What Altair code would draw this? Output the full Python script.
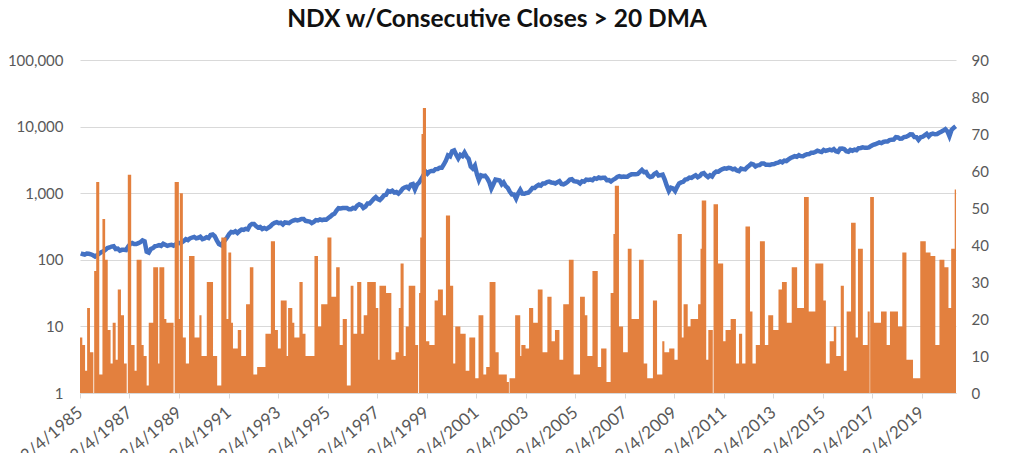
import altair as alt
import pandas as pd

TITLE = "NDX w/Consecutive Closes > 20 DMA"

# NDX monthly level (Feb 1985 .. Jun 2020), left log axis
ndx_values = [
    125, 122, 120, 124, 123, 121, 117, 112, 117, 124, 130,
    134, 142, 150, 153, 158, 160, 145, 147, 137, 141, 141, 140,
    158, 172, 178, 172, 172, 178, 184, 196, 190, 132, 128, 145,
    150, 160, 162, 166, 162, 174, 168, 162, 166, 168, 163, 170,
    180, 178, 182, 192, 204, 198, 210, 216, 220, 210, 214, 222,
    205, 210, 218, 212, 236, 240, 226, 196, 172, 166, 182, 198,
    218, 245, 262, 258, 268, 252, 270, 285, 282, 292, 286, 328,
    345, 345, 322, 305, 310, 290, 300, 290, 305, 320, 345, 360,
    368, 355, 360, 340, 365, 360, 355, 375, 388, 398, 390, 398,
    410, 410, 385, 380, 375, 355, 370, 395, 390, 405, 395, 402,
    400, 425, 445, 475, 490, 550, 595, 590, 600, 600, 600, 576,
    575, 600, 590, 650, 680, 660, 600, 630, 700, 700, 760, 820,
    875, 815, 790, 850, 930, 945, 1080, 1050, 1090, 1020, 1040, 990,
    1060, 1170, 1220, 1250, 1180, 1340, 1370, 1140, 1350, 1440, 1630, 1836,
    2130, 1960, 2100, 2160, 2150, 2300, 2310, 2410, 2410, 2700, 3100, 3708,
    3570, 4270, 4400, 3770, 3320, 3760, 3610, 4080, 3570, 3280, 2510, 2341,
    2590, 1910, 1570, 1850, 1800, 1830, 1680, 1470, 1170, 1360, 1600, 1577,
    1550, 1360, 1450, 1280, 1200, 1050, 960, 960, 830, 990, 1120, 984,
    980, 1010, 1020, 1100, 1200, 1200, 1280, 1340, 1300, 1400, 1400, 1467,
    1490, 1450, 1440, 1400, 1460, 1520, 1380, 1360, 1410, 1480, 1600, 1621,
    1520, 1500, 1480, 1400, 1510, 1490, 1600, 1580, 1600, 1570, 1680, 1645,
    1720, 1680, 1700, 1700, 1570, 1575, 1500, 1590, 1650, 1750, 1800, 1756,
    1780, 1770, 1770, 1860, 1920, 1930, 1930, 1950, 2090, 2240, 2070, 2084,
    1840, 1750, 1780, 1950, 2030, 1840, 1870, 1900, 1600, 1300, 1080, 1212,
    1180, 1080, 1240, 1400, 1450, 1480, 1600, 1630, 1720, 1700, 1790, 1860,
    1740, 1810, 1960, 2000, 1850, 1750, 1860, 1780, 2000, 2110, 2100, 2217,
    2300, 2360, 2340, 2400, 2380, 2280, 2330, 2200, 2150, 2350, 2300, 2277,
    2460, 2600, 2760, 2700, 2520, 2620, 2640, 2800, 2800, 2680, 2680, 2660,
    2730, 2740, 2820, 2880, 3000, 2910, 3090, 3040, 3220, 3370, 3480, 3592,
    3530, 3720, 3600, 3580, 3740, 3850, 3870, 4050, 4050, 4150, 4340, 4236,
    4150, 4450, 4330, 4410, 4510, 4400, 4600, 4270, 4180, 4650, 4670, 4593,
    4280, 4200, 4480, 4340, 4520, 4420, 4730, 4770, 4880, 4800, 4810, 4864,
    5120, 5330, 5430, 5580, 5790, 5650, 5880, 5990, 5980, 6250, 6370, 6396,
    6950, 6870, 6580, 6600, 6970, 7040, 7270, 7660, 7630, 6970, 6950, 6330,
    6900, 7030, 7380, 7780, 7130, 7670, 7850, 7660, 7750, 8080, 8400, 8733,
    9150, 8460, 7200, 8890, 9550, 10100,
]

# consecutive closes above the 20-day moving average, right axis
streak_dates = [
    "1985-02-04", "1985-03-10", "1985-04-20", "1985-05-20", "1985-07-01", "1985-08-20",
    "1985-09-01", "1985-10-01", "1985-11-15", "1986-01-01", "1986-02-10", "1986-03-20",
    "1986-05-01", "1986-06-01", "1986-07-15", "1986-08-15", "1986-10-01", "1986-11-15",
    "1986-12-25", "1987-01-10", "1987-03-01", "1987-04-20", "1987-05-20", "1987-08-01",
    "1987-09-01", "1987-10-15", "1987-11-15", "1988-01-20", "1988-04-01", "1988-04-20",
    "1988-07-01", "1988-08-01", "1988-11-15", "1988-12-01", "1989-02-01", "1989-02-15",
    "1989-04-01", "1989-05-15", "1989-07-01", "1989-09-20", "1989-12-01", "1990-01-01",
    "1990-03-20", "1990-06-20", "1990-08-20", "1990-10-20", "1991-01-05", "1991-02-01",
    "1991-03-15", "1991-04-10", "1991-06-20", "1991-08-10", "1991-10-20", "1991-12-15",
    "1992-02-05", "1992-04-01", "1992-08-01", "1992-10-20", "1992-12-20", "1993-02-01",
    "1993-03-15", "1993-06-10", "1993-07-01", "1993-09-01", "1993-10-01", "1993-12-15",
    "1994-02-01", "1994-03-15", "1994-07-25", "1994-09-15", "1994-11-01", "1995-02-01",
    "1995-04-01", "1995-06-10", "1995-08-01", "1995-09-15", "1995-11-15", "1996-01-10",
    "1996-02-20", "1996-04-15", "1996-06-15", "1996-07-20", "1996-09-10", "1997-01-15",
    "1997-02-20", "1997-03-10", "1997-06-15", "1997-09-01", "1997-11-01", "1997-12-20",
    "1998-01-15", "1998-03-01", "1998-04-01", "1998-05-15", "1998-08-20", "1998-10-01",
    "1998-10-15", "1998-11-01", "1998-11-20", "1998-12-10", "1999-01-25", "1999-03-15",
    "1999-06-01", "1999-07-20", "1999-10-01", "1999-11-15", "2000-01-15", "2000-03-01",
    "2000-04-01", "2000-06-15", "2000-09-01", "2000-10-25", "2001-01-20", "2001-03-10",
    "2001-05-20", "2001-07-01", "2001-08-20", "2001-11-15", "2002-01-01", "2002-05-01",
    "2002-06-01", "2002-06-10", "2002-09-01", "2002-11-15", "2002-12-01", "2003-02-01",
    "2003-03-25", "2003-05-25", "2003-08-01", "2003-10-10", "2003-12-20", "2004-02-20",
    "2004-04-10", "2004-06-15", "2004-08-10", "2004-11-01", "2005-01-10", "2005-04-15",
    "2005-06-25", "2005-08-01", "2005-10-15", "2006-01-01", "2006-02-20", "2006-05-10",
    "2006-07-10", "2006-08-20", "2006-09-10", "2006-11-10", "2007-01-10", "2007-03-20",
    "2007-05-15", "2007-09-01", "2007-11-10", "2008-01-01", "2008-03-25", "2008-05-25",
    "2008-08-10", "2008-09-10", "2008-11-20", "2009-02-05", "2009-03-25", "2009-05-25",
    "2009-06-20", "2009-08-20", "2009-10-01", "2010-01-20", "2010-02-25", "2010-03-15",
    "2010-05-20", "2010-06-20", "2010-08-25", "2010-09-05", "2010-11-10", "2011-01-25",
    "2011-03-01", "2011-05-15", "2011-08-01", "2011-09-15", "2011-11-01", "2011-12-20",
    "2012-02-25", "2012-04-01", "2012-05-20", "2012-07-20", "2012-10-01", "2012-11-20",
    "2013-02-01", "2013-04-20", "2013-06-10", "2013-08-20", "2013-11-01", "2014-01-20",
    "2014-05-01", "2014-07-10", "2014-10-15", "2015-02-10", "2015-03-20", "2015-05-15",
    "2015-07-15", "2015-08-20", "2015-10-25", "2015-12-10", "2016-01-20", "2016-03-25",
    "2016-06-01", "2016-07-05", "2016-09-15", "2016-11-25", "2016-12-25", "2017-01-01",
    "2017-02-25", "2017-06-10", "2017-09-01", "2017-10-20", "2018-02-15", "2018-04-20",
    "2018-06-20", "2018-09-25", "2019-01-10", "2019-04-01", "2019-06-10", "2019-08-20",
    "2019-10-20", "2020-01-01", "2020-03-01", "2020-04-10", "2020-06-01", "2020-06-20",
]
streak_values = [
    15, 13, 6, 23, 11, 0,
    33, 57, 5, 47, 36, 17,
    8, 19, 9, 28, 21, 8,
    0, 59, 13, 6, 36, 13,
    10, 2, 19, 34, 8, 34,
    20, 19, 0, 57, 20, 54,
    15, 8, 37, 15, 21, 10,
    30, 10, 2, 42, 20, 38,
    19, 12, 17, 10, 24, 34,
    5, 7, 16, 41, 17, 12,
    25, 10, 23, 19, 15, 30,
    16, 10, 37, 18, 24, 42,
    26, 34, 13, 20, 2, 29,
    16, 30, 16, 21, 30, 23,
    9, 29, 27, 9, 11, 23,
    35, 10, 18, 29, 13, 0,
    27, 42, 70, 77, 14, 13,
    25, 28, 21, 48, 29, 8,
    18, 16, 6, 15, 4, 21,
    5, 7, 30, 11, 5, 3,
    0, 4, 21, 10, 13, 12,
    23, 19, 28, 11, 26, 14,
    17, 9, 24, 36, 5, 26,
    21, 10, 33, 7, 12, 3,
    27, 43, 56, 18, 11, 39,
    20, 36, 8, 4, 25, 5,
    14, 11, 12, 9, 43, 15,
    24, 18, 20, 24, 39, 52,
    9, 17, 0, 51, 35, 14,
    17, 20, 8, 16, 8, 45,
    22, 8, 13, 41, 13, 21,
    17, 28, 30, 19, 34, 23,
    53, 22, 35, 25, 8, 14,
    18, 10, 29, 6, 22, 46,
    15, 39, 13, 22, 0, 53,
    19, 22, 13, 22, 18, 38,
    9, 4, 41, 38, 37, 13,
    36, 34, 23, 39, 55, 55,
]

tick_years = list(range(1985, 2020, 2))

ndx_dates = (pd.date_range("1985-02-01", periods=len(ndx_values), freq="MS")
             + pd.Timedelta(days=14)).strftime("%Y-%m-%d")
ndx_df = pd.DataFrame({"date": ndx_dates, "ndx": ndx_values})
streak_df = pd.DataFrame({"date": streak_dates, "streak": streak_values})

FONT = "Lato"
LABEL = "#595959"
GRID = "#d9d9d9"

x_enc = alt.X(
    "date:T",
    scale=alt.Scale(domain=[alt.DateTime(year=1985, month=2, date=4, utc=True),
                            alt.DateTime(year=2020, month=6, date=20, utc=True)]),
    axis=alt.Axis(
        values=[alt.DateTime(year=y, month=2, date=4, utc=True) for y in tick_years],
        labelExpr="utcFormat(datum.value, '%-m/%-d/%Y')",
        labelAngle=-40, labelAlign="right", labelBaseline="middle",
        labelFont=FONT, labelFontSize=17, labelColor=LABEL, labelPadding=12,
        grid=False, domainColor=GRID, tickColor=GRID, tickSize=5, title=None,
        labelOverlap=False,
    ),
)

line = alt.Chart(ndx_df).mark_line(color="#4472C4", strokeWidth=4.5).encode(
    x=x_enc,
    y=alt.Y("ndx:Q",
            scale=alt.Scale(type="log", domain=[1, 100000]),
            axis=alt.Axis(values=[1, 10, 100, 1000, 10000, 100000], format=",",
                          grid=True, gridColor=GRID, domain=False, ticks=False,
                          labelFont=FONT, labelFontSize=15, labelColor=LABEL,
                          labelPadding=17, title=None)),
)

area = alt.Chart(streak_df).mark_area(color="#E3803E", interpolate="step-after").encode(
    x=x_enc,
    y=alt.Y("streak:Q",
            scale=alt.Scale(domain=[0, 90]),
            axis=alt.Axis(orient="right", values=list(range(0, 100, 10)),
                          grid=False, domain=False, ticks=False,
                          labelFont=FONT, labelFontSize=15, labelColor=LABEL,
                          labelPadding=15, title=None)),
)

chart = alt.layer(line, area).resolve_scale(y="independent").properties(
    width=876, height=333,
    title=alt.TitleParams(TITLE, font=FONT, fontSize=24.5, fontWeight="bold",
                          color="#111111", anchor="middle", frame="group",
                          offset=21, dx=-21),
    padding={"left": 72, "top": 52, "right": 60, "bottom": 60},
    autosize=alt.AutoSizeParams(type="none"),
).configure_view(stroke=None)

chart.save("out.html", embed_options={"renderer": "svg", "actions": False})
